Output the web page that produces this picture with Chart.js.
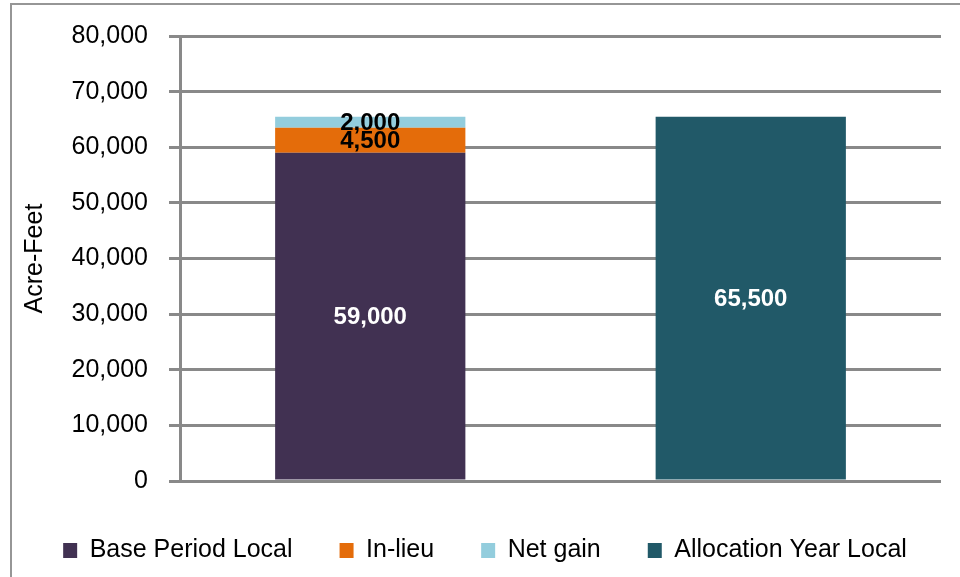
<!DOCTYPE html>
<html>
<head>
<meta charset="utf-8">
<script src="https://cdn.jsdelivr.net/npm/chart.js@4.4.0/dist/chart.umd.min.js"></script>
<style>
  html, body { margin: 0; padding: 0; background: #fff; }
  #wrap { position: relative; width: 960px; height: 577px; overflow: hidden; }
  #frame { position: absolute; left: 10px; top: 3px; width: 1000px; height: 700px;
           border: 2px solid #969696; box-sizing: border-box; }
  canvas { position: absolute; left: 0; top: 0; }
</style>
</head>
<body>
<div id="wrap">
  <div id="frame"></div>
  <canvas id="chart" width="960" height="577"></canvas>
</div>
<script>
// --- data ---
const categories = ['Base Period', 'Allocation Year'];
const basePeriodLocal = [59000, null];
const inLieu = [4500, null];
const netGain = [2000, null];
const allocationYearLocal = [null, 65500];
const yTicks = [0, 10000, 20000, 30000, 40000, 50000, 60000, 70000, 80000];

const FONT = '"Liberation Sans", Arial, sans-serif';
const GRID = '#898989';

// labels inside the bar segments
const segmentLabels = {
  id: 'segmentLabels',
  afterDatasetsDraw(chart) {
    const ctx = chart.ctx;
    ctx.save();
    ctx.font = 'bold 24px ' + FONT;
    ctx.textAlign = 'center';
    ctx.textBaseline = 'middle';
    chart.data.datasets.forEach((ds, i) => {
      const meta = chart.getDatasetMeta(i);
      meta.data.forEach((bar, j) => {
        const v = ds.data[j];
        if (v == null) return;
        const p = bar.getProps(['x', 'y', 'base'], true);
        ctx.fillStyle = ds.labelColor;
        ctx.fillText(v.toLocaleString('en-US'), p.x, (p.y + p.base) / 2 + 1);
      });
    });
    ctx.restore();
  }
};

// legend padding is wide, so keep its box height small
const legendFit = {
  id: 'legendFit',
  afterInit(chart) {
    const legend = chart.legend;
    const fit = legend.fit;
    legend.fit = function () {
      fit.call(this);
      this.height = 86;
    };
  }
};

new Chart(document.getElementById('chart'), {
  type: 'bar',
  data: {
    labels: categories,
    datasets: [
      { label: 'Base Period Local', data: basePeriodLocal, backgroundColor: '#413152', labelColor: '#fff' },
      { label: 'In-lieu', data: inLieu, backgroundColor: '#E46C0A', labelColor: '#000' },
      { label: 'Net gain', data: netGain, backgroundColor: '#93CDDD', labelColor: '#000' },
      { label: 'Allocation Year Local', data: allocationYearLocal, backgroundColor: '#215968', labelColor: '#fff' }
    ]
  },
  options: {
    responsive: false,
    animation: false,
    devicePixelRatio: 1,
    layout: { padding: { top: 34, right: 0, left: 10, bottom: 0 } },
    datasets: { bar: { categoryPercentage: 1, barPercentage: 0.5, borderWidth: 0 } },
    scales: {
      x: {
        stacked: true,
        grid: { display: false },
        border: { display: false },
        ticks: { display: false },
        afterFit: s => { s.height = 10; }
      },
      y: {
        stacked: true,
        min: 0,
        max: 80000,
        afterBuildTicks: s => { s.ticks = yTicks.map(v => ({ value: v })); },
        afterFit: s => { s.width = 170; },
        ticks: {
          padding: 21,
          color: '#000',
          font: { family: FONT, size: 25 },
          callback: v => v.toLocaleString('en-US')
        },
        grid: { color: GRID, lineWidth: 3, tickLength: 11 },
        border: { display: true, color: GRID, width: 3 },
        title: {
          display: true,
          text: 'Acre-Feet',
          color: '#000',
          font: { family: FONT, size: 25 },
          padding: { top: 10, bottom: 0 }
        }
      },
      // empty strip on the right of the plot
      yRight: {
        position: 'right',
        grid: { display: false },
        border: { display: false },
        ticks: { display: false },
        afterFit: s => { s.width = 19; }
      }
    },
    plugins: {
      tooltip: { enabled: false },
      legend: {
        position: 'bottom',
        labels: {
          color: '#000',
          font: { family: FONT, size: 25 },
          boxWidth: 14,
          boxHeight: 15,
          padding: 47
        }
      }
    }
  },
  plugins: [segmentLabels, legendFit]
});
</script>
</body>
</html>
